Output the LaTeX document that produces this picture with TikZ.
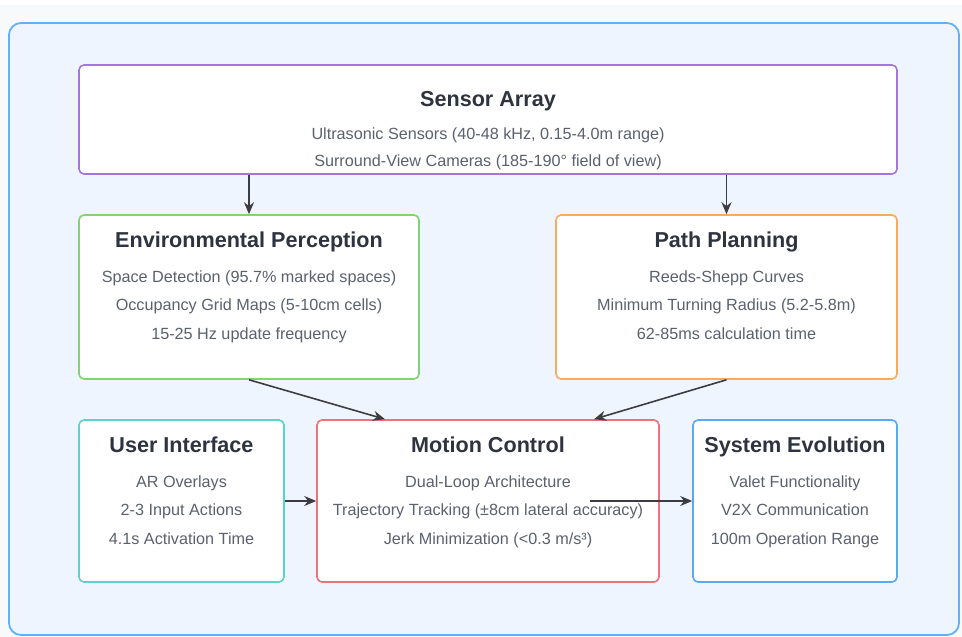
\documentclass[tikz,border=0pt]{standalone}
\usepackage{fontspec}
\setmainfont{Liberation Sans}
\usetikzlibrary{arrows.meta,calc}

\definecolor{pagebg}{HTML}{F8F9FB}
\definecolor{panelbg}{HTML}{EFF5FE}
\definecolor{panelrim}{HTML}{62B1F8}
\definecolor{cpurple}{HTML}{A475DD}
\definecolor{cgreen}{HTML}{83D274}
\definecolor{corange}{HTML}{F6AC5E}
\definecolor{ccyan}{HTML}{5CD2CE}
\definecolor{cred}{HTML}{F0717B}
\definecolor{cblue}{HTML}{5AA9F5}
\definecolor{titlecol}{HTML}{2E3340}
\definecolor{bodycol}{HTML}{5C6170}
\definecolor{arrowcol}{HTML}{3B3D42}

\begin{document}
\begin{tikzpicture}[x=1pt, y=-1pt, >={Stealth[length=12pt,width=10pt]},
    stage/.style={ draw=#1, line width=1.6pt, fill=white,
      rounded corners=5pt, inner sep=0pt },
    heading/.style={ font=\bfseries\fontsize{21.6}{24}\selectfont,
      text=titlecol, inner sep=0pt, text height=15.5pt, text depth=4.5pt },
    detail/.style={ font=\fontsize{16.2}{19}\selectfont,
      text=bodycol, inner sep=0pt, text height=12pt, text depth=3.5pt },
    flow/.style={ ->, draw=arrowcol, fill=arrowcol, line width=1.6pt } ]
  \useasboundingbox (0,0) rectangle (962,637);
  % page and panel
  \fill[pagebg] (0,5) rectangle (962,637);
  \draw[panelrim, fill=panelbg, line width=1.8pt, rounded corners=12pt]
    (9,23) rectangle (959,635);

  % stages
  \node[stage=cpurple, minimum width=818pt, minimum height=109pt]
    (sensor) at (488,119.5) {};
  \node[stage=cgreen, minimum width=340pt, minimum height=164pt]
    (percep) at (249,297) {};
  \node[stage=corange, minimum width=341pt, minimum height=164pt]
    (planning) at (726.5,297) {};
  \node[stage=ccyan, minimum width=205pt, minimum height=162pt]
    (ui) at (181.5,501) {};
  \node[stage=cred, minimum width=342pt, minimum height=162pt]
    (motion) at (488,501) {};
  \node[stage=cblue, minimum width=204pt, minimum height=162pt]
    (evolution) at (795,501) {};

  % headings
  \node[heading] (sensorT) at ([yshift=-37pt]sensor.north) {Sensor Array};
  \foreach \n/\t in {percep/Environmental Perception, planning/Path Planning,
      ui/User Interface, motion/Motion Control, evolution/System Evolution}
    \node[heading] (\n T) at ([yshift=-28pt]\n.north) {\t};

  % details
  \node[detail] (sensor1) at ([yshift=-34pt]sensorT) {Ultrasonic Sensors (40-48 kHz, 0.15-4.0m range)};
  \node[detail] (sensor2) at ([yshift=-27pt]sensor1) {Surround-View Cameras (185-190° field of view)};
  \foreach \n/\a/\b/\c in {
      percep/Space Detection (95.7\% marked spaces)/Occupancy Grid Maps (5-10cm cells)/15-25 Hz update frequency,
      planning/Reeds-Shepp Curves/Minimum Turning Radius (5.2-5.8m)/62-85ms calculation time,
      ui/AR Overlays/2-3 Input Actions/4.1s Activation Time,
      motion/Dual-Loop Architecture/Trajectory Tracking (±8cm lateral accuracy)/{Jerk Minimization (<0.3 m/s³)},
      evolution/Valet Functionality/V2X Communication/100m Operation Range} {
    \node[detail] (\n1) at ([yshift=-36pt]\n T) {\a};
    \node[detail] (\n2) at ([yshift=-28.5pt]\n1) {\b};
    \node[detail] (\n3) at ([yshift=-28.5pt]\n2) {\c};
  }

  % connectors
  \coordinate (motionL) at ([xshift=-103pt]motion.north);
  \coordinate (motionR) at ([xshift=106pt]motion.north);
  \coordinate (motionOut) at ([xshift=102pt]motion.center);
  \draw[flow] (sensor.south -| percep.north) -- (percep.north);
  \draw[flow] (sensor.south -| planning.north) -- (planning.north);
  \draw[flow] (percep.south) -- (motionL);
  \draw[flow] (planning.south) -- (motionR);
  \draw[flow] (ui.east) -- (motion.west);
  \draw[flow] (motionOut) -- (evolution.west);
\end{tikzpicture}
\end{document}
